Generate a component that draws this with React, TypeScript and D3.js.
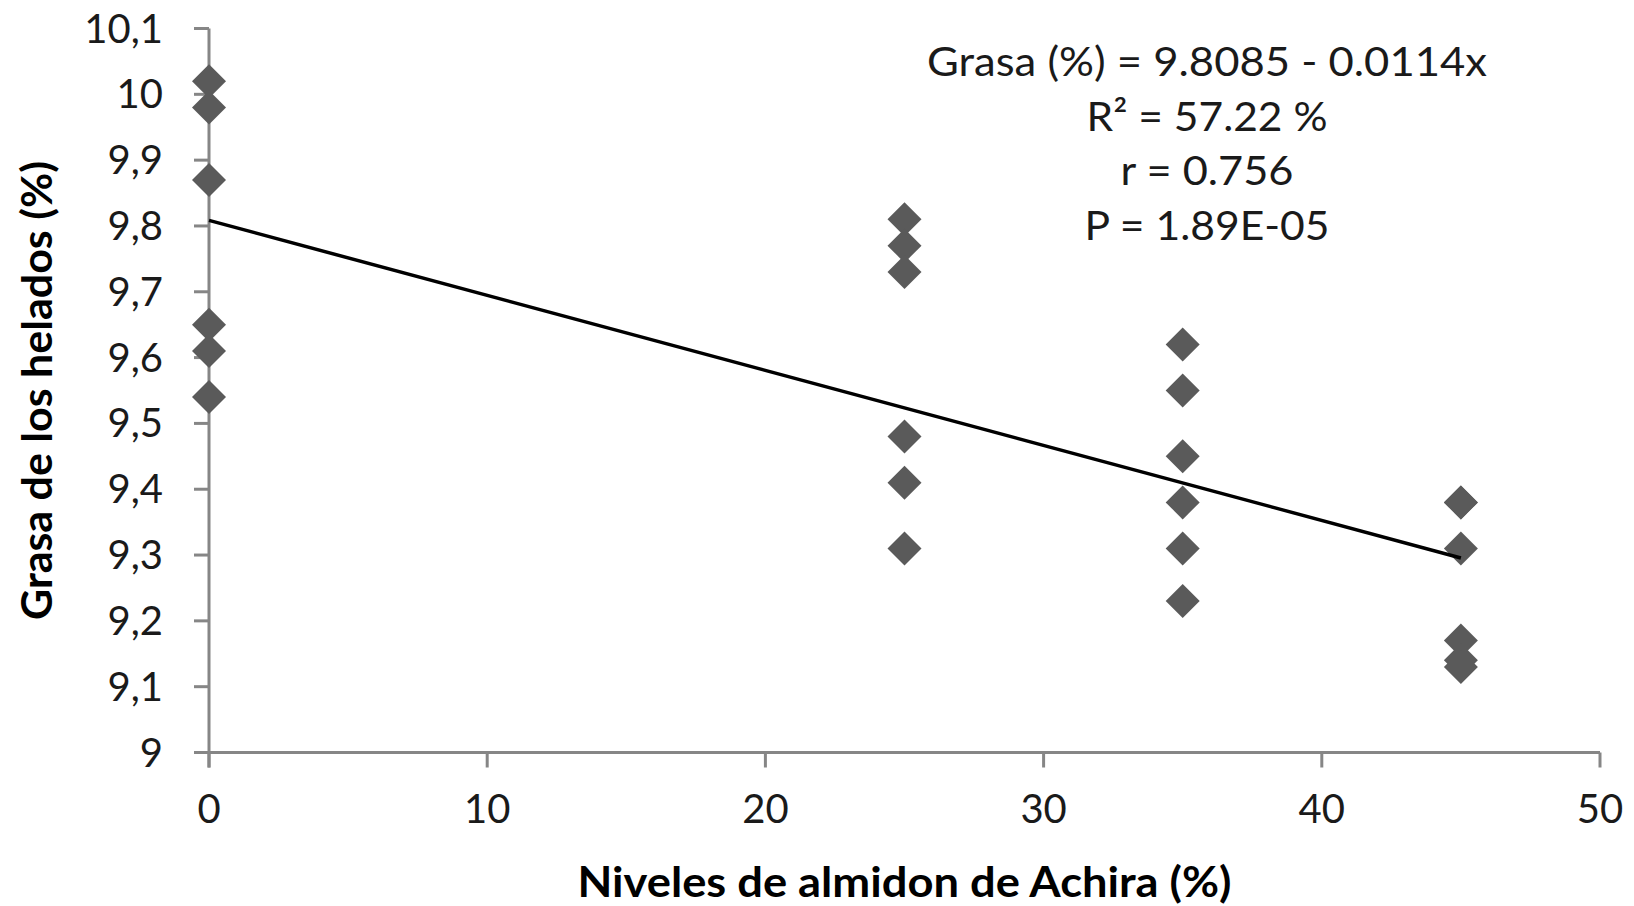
import React from "react";
import * as d3 from "d3";

// Starch level (%) of each ice-cream sample and its measured fat (%)
const starchLevels = [0, 0, 0, 0, 0, 0, 25, 25, 25, 25, 25, 25, 35, 35, 35, 35, 35, 35, 45, 45, 45, 45, 45, 45];
const fatValues = [
  10.02, 9.98, 9.87, 9.65, 9.61, 9.54,
  9.81, 9.77, 9.73, 9.48, 9.41, 9.31,
  9.62, 9.55, 9.45, 9.38, 9.31, 9.23,
  9.38, 9.38, 9.31, 9.17, 9.14, 9.13,
];

// Fitted linear model
const intercept = 9.8085;
const slope = -0.0114;
const fitRange = [0, 45];

const xTicks = [0, 10, 20, 30, 40, 50];
const yTicks = [9, 9.1, 9.2, 9.3, 9.4, 9.5, 9.6, 9.7, 9.8, 9.9, 10, 10.1];

const statLines = [
  "Grasa (%) = 9.8085 - 0.0114x",
  "R² = 57.22 %",
  "r = 0.756",
  "P = 1.89E-05",
];
const statWidths = [560, 241, 173, 245];

const xTitle = "Niveles de almidon de Achira (%)";
const yTitle = "Grasa de los helados (%)";

const W = 1634;
const H = 906;
const FONT = "Lato, 'Open Sans', sans-serif";

const esLocale = d3.formatLocale({ decimal: ",", thousands: ".", grouping: [3], currency: ["", ""] });
const fmtY = (v: number) => esLocale.format("~r")(+v.toFixed(1));

export default function App() {
  const x = d3.scaleLinear().domain([0, 50]).range([209, 1600]);
  const y = d3.scaleLinear().domain([9, 10.1]).range([752.5, 28.5]);

  const diamond = d3.symbol().type(d3.symbolSquare).size(578)() as string;
  const fitLine = d3
    .line<number>()
    .x((d) => x(d))
    .y((d) => y(intercept + slope * d))(fitRange) as string;

  const axisColor = "#868686";
  const tickLen = 15;

  return (
    <svg
      width={W}
      height={H}
      style={{ position: "fixed", left: 0, top: 0, background: "#fff" }}
      fontFamily={FONT}
    >
      <rect width={W} height={H} fill="#fff" />

      {/* y axis */}
      <line x1={x(0)} x2={x(0)} y1={y(10.1)} y2={y(9) + tickLen} stroke={axisColor} strokeWidth={3} />
      {yTicks.map((t) => (
        <g key={`y${t}`}>
          <line x1={x(0) - tickLen} x2={x(0)} y1={y(t)} y2={y(t)} stroke={axisColor} strokeWidth={3} />
          <text x={163} y={y(t)} dy="0.35em" textAnchor="end" fontSize={40} fill="#1a1a1a">
            {fmtY(t)}
          </text>
        </g>
      ))}

      {/* x axis */}
      <line x1={x(0) - tickLen} x2={x(50)} y1={y(9)} y2={y(9)} stroke={axisColor} strokeWidth={3} />
      {xTicks.map((t) => (
        <g key={`x${t}`}>
          <line x1={x(t)} x2={x(t)} y1={y(9)} y2={y(9) + tickLen} stroke={axisColor} strokeWidth={3} />
          <text x={x(t)} y={823} textAnchor="middle" fontSize={40} fill="#1a1a1a">
            {t}
          </text>
        </g>
      ))}

      {/* axis titles */}
      <text
        x={(x(0) + x(50)) / 2}
        y={897}
        textAnchor="middle"
        fontSize={42}
        fontWeight="bold"
        fill="#000"
        textLength={654}
        lengthAdjust="spacingAndGlyphs"
      >
        {xTitle}
      </text>
      <text
        transform={`translate(52, ${(y(9) + y(10.1)) / 2}) rotate(-90)`}
        textAnchor="middle"
        fontSize={42}
        fontWeight="bold"
        fill="#000"
        textLength={459}
        lengthAdjust="spacingAndGlyphs"
      >
        {yTitle}
      </text>

      {/* observations */}
      {starchLevels.map((s, i) => (
        <path
          key={`p${i}`}
          d={diamond}
          transform={`translate(${x(s)}, ${y(fatValues[i])}) rotate(45)`}
          fill="#5a5a5a"
        />
      ))}

      {/* fitted trend */}
      <path d={fitLine} fill="none" stroke="#000" strokeWidth={3.5} />

      {/* model statistics */}
      {statLines.map((s, i) => (
        <text
          key={`s${i}`}
          x={1207}
          y={76 + i * 54.7}
          textAnchor="middle"
          fontSize={41}
          fill="#1a1a1a"
          textLength={statWidths[i]}
          lengthAdjust="spacingAndGlyphs"
        >
          {s}
        </text>
      ))}
    </svg>
  );
}
